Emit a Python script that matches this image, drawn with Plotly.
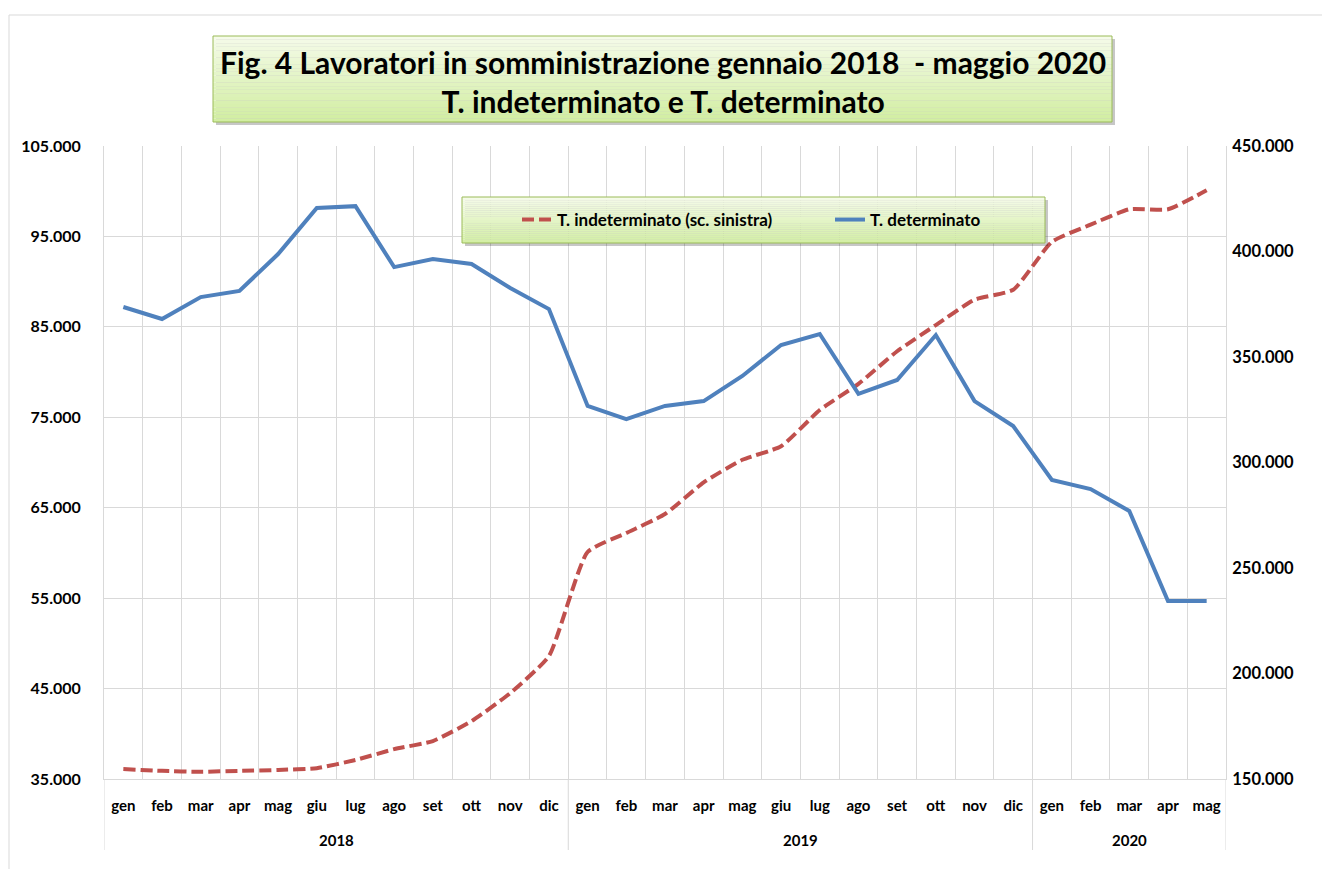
import plotly.graph_objects as go

# dati
anni = ['2018'] * 12 + ['2019'] * 12 + ['2020'] * 5
mesi = ['gen', 'feb', 'mar', 'apr', 'mag', 'giu', 'lug', 'ago', 'set', 'ott', 'nov', 'dic',
        'gen', 'feb', 'mar', 'apr', 'mag', 'giu', 'lug', 'ago', 'set', 'ott', 'nov', 'dic',
        'gen', 'feb', 'mar', 'apr', 'mag']
indeterminato = [36100, 35900, 35800, 35900, 36000, 36200, 37100, 38300, 39200, 41400, 44500, 48600,
                 60100, 62200, 64300, 67800, 70300, 71800, 75800, 78700, 82300, 85200, 88000, 89100,
                 94400, 96300, 98000, 98000, 100100]
determinato = [373700, 368000, 378400, 381300, 398800, 420600, 421500, 392600, 396400, 394100, 382700, 372700,
               326800, 320600, 326800, 329100, 341000, 355700, 360900, 332500, 339100, 360400, 329100, 317300,
               291700, 287400, 277000, 234400, 234400]

idx = list(range(len(mesi)))

W, H = 1314, 861
ML, MR, MT, MB = 96, 96, 138, 90
PW, PH = W - ML - MR, H - MT - MB
GRID = '#d9d9d9'


def px(x):
    # pixel schermo -> paper x
    return (x - 8 - ML) / PW


def py(y):
    return (H - MB + 8 - y) / PH


def gradient_box(x0, y0, x1, y1, top, bottom, n=24):
    shapes = [dict(type='rect', xref='paper', yref='paper',
                   x0=px(x0 + 3), x1=px(x1 + 3), y0=py(y1 + 3), y1=py(y0 + 3),
                   line=dict(width=0), fillcolor='rgba(0,0,0,0.22)', layer='above')]
    for i in range(n):
        t = i / (n - 1)
        c = tuple(int(top[k] + (bottom[k] - top[k]) * t) for k in range(3))
        ya = y0 + (y1 - y0) * i / n
        yb = y0 + (y1 - y0) * (i + 1) / n
        shapes.append(dict(type='rect', xref='paper', yref='paper',
                           x0=px(x0), x1=px(x1), y0=py(yb), y1=py(ya),
                           line=dict(width=0), fillcolor='rgb(%d,%d,%d)' % c, layer='above'))
    shapes.append(dict(type='rect', xref='paper', yref='paper',
                       x0=px(x0), x1=px(x1), y0=py(y1), y1=py(y0),
                       line=dict(width=1, color='#9bbb59'), layer='above'))
    return shapes


fig = go.Figure()
fig.add_trace(go.Scatter(
    x=idx,
    y=indeterminato,
    name='T. indeterminato (sc. sinistra)',
    mode='lines',
    line=dict(color='#c0504d', width=4, dash='12px,5px', shape='spline', smoothing=0.5)))
fig.add_trace(go.Scatter(
    x=idx,
    y=determinato,
    name='T. determinato',
    mode='lines',
    yaxis='y2',
    line=dict(color='#4f81bd', width=4)))

shapes = []
# bordo esterno
shapes.append(dict(type='line', xref='paper', yref='paper', x0=px(9), x1=px(9), y0=py(15), y1=py(900),
                   line=dict(color=GRID, width=1)))
shapes.append(dict(type='line', xref='paper', yref='paper', x0=px(9), x1=px(1400), y0=py(15), y1=py(15),
                   line=dict(color=GRID, width=1)))

# separatori anni e etichette anni
confini = [-0.5] + [i - 0.5 for i in range(1, len(anni)) if anni[i] != anni[i - 1]] + [len(anni) - 0.5]
for a, b in zip(confini[:-1], confini[1:]):
    fig.add_annotation(text=anni[int(a + 0.5)], x=(a + b) / 2, xref='x', y=py(840), yref='paper',
                       showarrow=False, yanchor='middle',
                       font=dict(family='Lato', size=15, color='black', weight='bold'))
for c in confini:
    shapes.append(dict(type='line', xref='x', yref='paper', x0=c, x1=c, y0=0, y1=py(850),
                       line=dict(color=GRID, width=1)))

shapes += gradient_box(213, 36, 1112, 122, (245, 251, 233), (210, 238, 162))
shapes += gradient_box(462, 197, 1045, 243, (245, 251, 233), (212, 239, 166))

fig.add_annotation(
    text='Fig. 4 Lavoratori in somministrazione gennaio 2018  - maggio 2020<br>T. indeterminato e T. determinato',
    xref='paper', yref='paper', x=px(663), y=py(81), xanchor='center', yanchor='middle',
    showarrow=False, font=dict(family='Lato', size=30, color='black', weight='bold'))

fig.update_layout(
    width=W, height=H,
    margin=dict(l=ML, r=MR, t=MT, b=MB),
    plot_bgcolor='white', paper_bgcolor='white',
    separators=',.',
    shapes=shapes,
    showlegend=True,
    legend=dict(orientation='h', x=px(517), y=py(220), xanchor='left', yanchor='middle',
                bgcolor='rgba(0,0,0,0)', font=dict(family='Lato', size=17, color='black', weight='bold'),
                entrywidth=268),
    xaxis=dict(range=[-0.5, len(mesi) - 0.5], tickvals=idx, ticktext=mesi, showgrid=False,
               zeroline=False, showline=True, linecolor=GRID, ticks='outside', ticklen=13,
               tickcolor='rgba(0,0,0,0)',
               minor=dict(tickvals=[i - 0.5 for i in range(len(mesi) + 1)], showgrid=True, gridcolor=GRID,
                          ticks=''),
               tickfont=dict(family='Lato', size=15, color='black', weight='bold')),
    yaxis=dict(range=[35000, 105000], tick0=35000, dtick=10000, tickformat=',d', showgrid=True,
               gridcolor=GRID, zeroline=False, showline=True, linecolor=GRID,
               ticks='outside', ticklen=19, tickcolor='rgba(0,0,0,0)',
               tickfont=dict(family='Lato', size=16, color='black', weight='bold')),
    yaxis2=dict(range=[150000, 450000], tick0=150000, dtick=50000, tickformat=',d', overlaying='y',
                side='right', showgrid=False, zeroline=False, showline=True, linecolor=GRID,
                ticks='outside', ticklen=2, tickcolor='rgba(0,0,0,0)',
                tickfont=dict(family='Lato', size=16.5, color='black', weight='bold')),
)

fig.write_html('out.html')
